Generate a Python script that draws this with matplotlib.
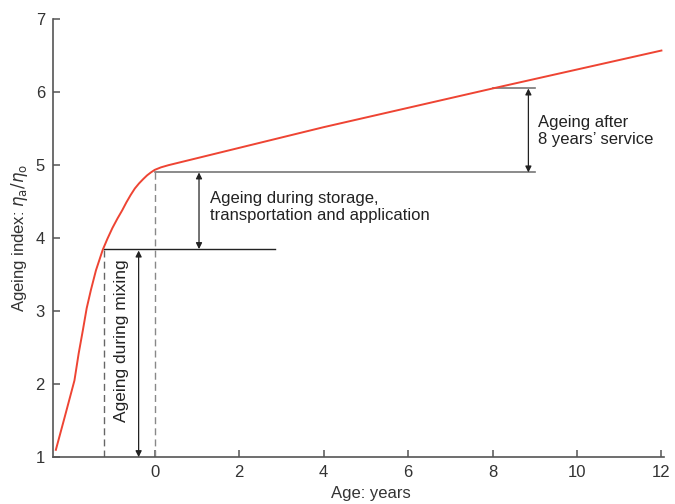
import numpy as np
import matplotlib.pyplot as plt

plt.rcParams['font.family'] = ['Liberation Sans', 'DejaVu Sans']
plt.rcParams['mathtext.fontset'] = 'dejavusans'

# ageing curve
age = [-2.34, -2.13, -1.9, -1.8, -1.7, -1.61, -1.51, -1.39, -1.23, -1.12, -1.0, -0.88,
       -0.77, -0.67, -0.57, -0.47, -0.37, -0.27, -0.18, -0.09, 0.0, 0.15, 0.33,
       4, 8, 12]
index = [1.1, 1.55, 2.05, 2.42, 2.74, 3.04, 3.29, 3.56, 3.84, 3.99, 4.14, 4.27,
         4.38, 4.49, 4.59, 4.68, 4.75, 4.81, 4.86, 4.9, 4.935, 4.97, 5.0,
         5.52, 6.05, 6.57]

mix_age, mix_level = -1.2, 3.85
store_age, store_level = 0.0, 4.9
service_age, service_level = 8.0, 6.05

labels = ["Ageing during mixing",
          "Ageing during storage,\ntransportation and application",
          "Ageing after\n8 years\u2019 service"]

fig = plt.figure(figsize=(6.75, 5.04), dpi=100)
ax = fig.add_axes([0.079, 0.093, 0.904, 0.869])

ax.plot(age, index, color='#ee4433', lw=1.4, zorder=3)

# reference lines
ax.plot([mix_age, 2.85], [mix_level, mix_level], color='#222222', lw=1.0)
ax.plot([store_age, 9.0], [store_level, store_level], color='#777777', lw=1.2)
ax.plot([service_age, 9.0], [service_level, service_level], color='#777777', lw=1.2)
ax.plot([mix_age, mix_age], [1, mix_level], color='#666666', lw=1.0, ls=(0, (5, 3)))
ax.plot([store_age, store_age], [1, store_level], color='#888888', lw=1.0, ls=(0, (5, 3)))

arrow = dict(arrowstyle='<|-|>', color='#222222', lw=0.9, mutation_scale=9,
             shrinkA=0, shrinkB=0)
ax.annotate('', xy=(-0.38, 1.0), xytext=(-0.38, mix_level - 0.02), arrowprops=arrow)
ax.annotate('', xy=(1.05, mix_level), xytext=(1.05, store_level), arrowprops=arrow)
ax.annotate('', xy=(8.85, store_level), xytext=(8.85, service_level), arrowprops=arrow)

ax.text(-0.78, 2.6, labels[0], rotation=90, ha='center', va='center', fontsize=12.5,
        color='#222222')
ax.text(1.32, 4.43, labels[1], ha='left', va='center', fontsize=12, color='#222222',
        linespacing=1.15)
ax.text(9.08, 5.47, labels[2], ha='left', va='center', fontsize=12, color='#222222',
        linespacing=1.15)

ax.set_xlim(-2.4, 12.05)
ax.set_ylim(1, 7)
ax.set_xticks([0, 2, 4, 6, 8, 10, 12])
ax.set_yticks([1, 2, 3, 4, 5, 6, 7])
ax.tick_params(direction='in', length=5, width=1.1, color='#555555',
               labelsize=12, labelcolor='#333333', pad=6)
for s in ['top', 'right']:
    ax.spines[s].set_visible(False)
for s in ['left', 'bottom']:
    ax.spines[s].set_color('#555555')
    ax.spines[s].set_linewidth(1.2)

ax.set_xlabel('Age: years', fontsize=12, color='#333333', labelpad=4, x=0.52)
ax.set_ylabel(r'Ageing index: $\eta_{\rm a}/\eta_{\rm o}$', fontsize=12,
              color='#333333', labelpad=4)

fig.savefig('out.png', dpi=100)
